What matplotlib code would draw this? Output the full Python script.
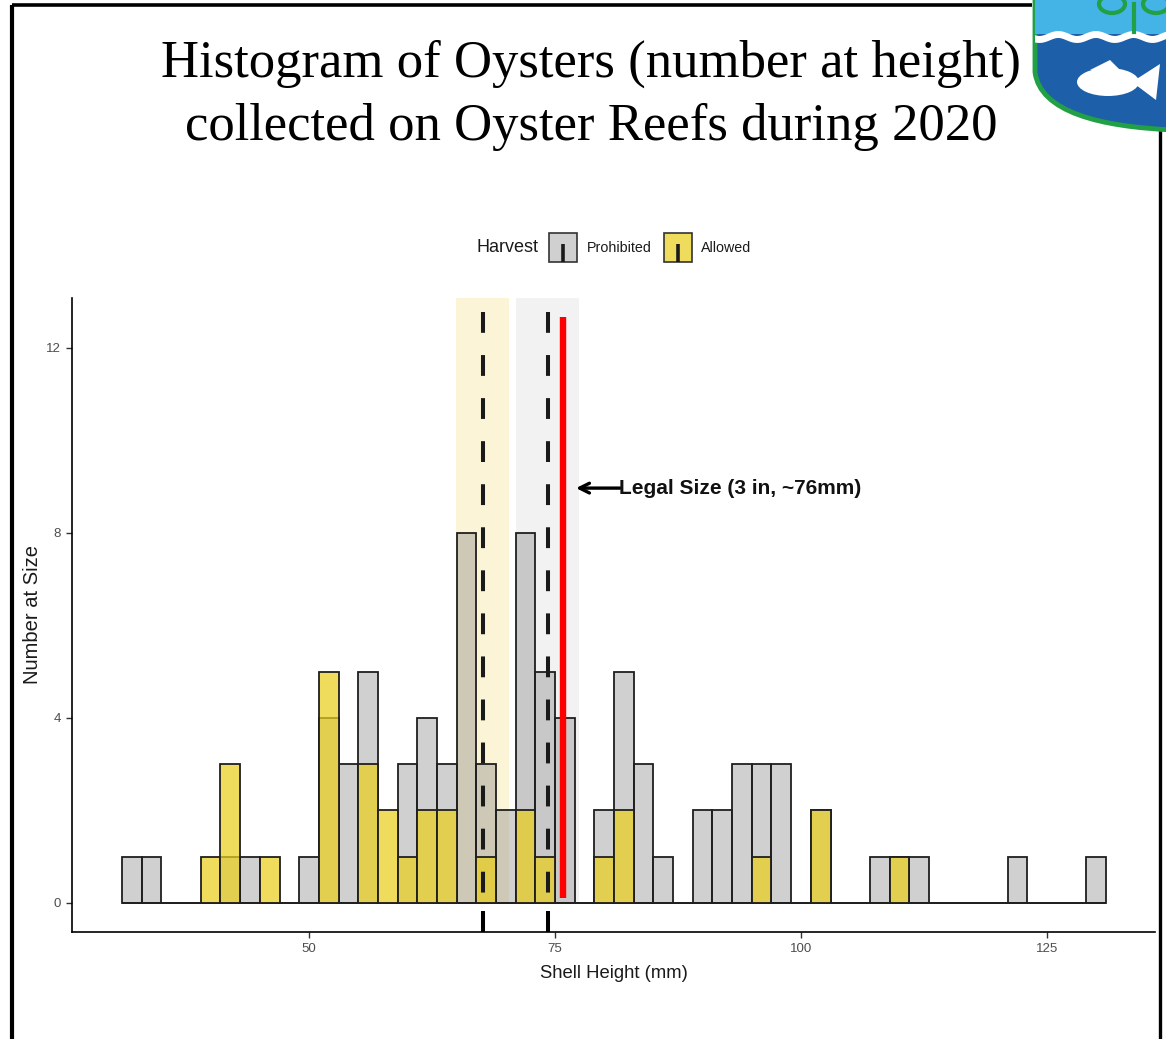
import numpy as np
import matplotlib
matplotlib.use("Agg")
import matplotlib.pyplot as plt
from matplotlib.patches import Rectangle, PathPatch, Ellipse, Polygon, FancyArrowPatch
from matplotlib.path import Path

# ---------------- data ----------------
bin_centers = [32, 34, 36, 38, 40, 42, 44, 46, 48, 50,
               52, 54, 56, 58, 60, 62, 64, 66, 68, 70,
               72, 74, 76, 78, 80, 82, 84, 86, 88, 90,
               92, 94, 96, 98, 100, 102, 104, 106, 108, 110,
               112, 114, 116, 118, 120, 122, 124, 126, 128, 130]
prohibited = [1, 1, 0, 0, 0, 1, 1, 0, 0, 1,
              4, 3, 5, 0, 3, 4, 3, 8, 3, 2,
              8, 5, 4, 0, 2, 5, 3, 1, 0, 2,
              2, 3, 3, 3, 0, 2, 0, 0, 1, 1,
              1, 0, 0, 0, 0, 1, 0, 0, 0, 1]
allowed = [0, 0, 0, 0, 1, 3, 0, 1, 0, 0,
           5, 0, 3, 2, 1, 2, 2, 0, 1, 0,
           2, 1, 0, 0, 1, 2, 0, 0, 0, 0,
           0, 0, 1, 0, 0, 2, 0, 0, 0, 1,
           0, 0, 0, 0, 0, 0, 0, 0, 0, 0]
bin_width = 2
mean_allowed = 67.65
mean_prohibited = 74.24
band_allowed = (64.94, 70.33)
band_prohibited = (71.04, 77.44)
legal_size = 75.8
x_ticks = [50, 75, 100, 125]
y_ticks = [0, 4, 8, 12]
legend_labels = ["Prohibited", "Allowed"]

W, H = 1166, 1039
fig = plt.figure(figsize=(W / 100, H / 100), dpi=100)
fig.patch.set_facecolor("white")

# ---------------- overlay (pixel coords) ----------------
ov = fig.add_axes([0, 0, 1, 1])
ov.set_xlim(0, W)
ov.set_ylim(H, 0)
ov.axis("off")
ov.set_zorder(0)

# slide borders
ov.plot([12, 12], [5, H + 5], color="black", lw=3, solid_capstyle="butt")
ov.plot([12, 1032], [5, 5], color="black", lw=2.6, solid_capstyle="butt")
ov.plot([1160, 1160], [128, H + 5], color="black", lw=2.4, solid_capstyle="butt")

# logo (shield)
verts = [(1035, -10), (1035, 72), (1040, 112), (1100, 127), (1175, 130), (1175, -10), (1035, -10)]
codes = [Path.MOVETO, Path.LINETO, Path.CURVE4, Path.CURVE4, Path.CURVE4, Path.LINETO, Path.CLOSEPOLY]
shield = PathPatch(Path(verts, codes), facecolor="#1d5fa9", edgecolor="#22a046", lw=3.5, zorder=2)
ov.add_patch(shield)
lb = Rectangle((1030, -10), 150, 44, facecolor="#44b3e6", edgecolor="none", zorder=3)
ov.add_patch(lb)
lb.set_clip_path(shield)
wx = np.linspace(1030, 1175, 80)
wave, = ov.plot(wx, 37 + 2.5 * np.sin((wx - 1030) / 6.0), color="white", lw=5, zorder=4)
wave.set_clip_path(shield)
fish = Ellipse((1108, 82), 62, 28, facecolor="white", edgecolor="none", zorder=4)
ov.add_patch(fish)
tail = Polygon([(1132, 82), (1160, 64), (1156, 100)], closed=True, facecolor="white", edgecolor="none", zorder=4)
ov.add_patch(tail)
fin = Polygon([(1090, 70), (1110, 60), (1122, 72)], closed=True, facecolor="white", edgecolor="none", zorder=4)
ov.add_patch(fin)
ov.plot([1134, 1134], [4, 32], color="#22a046", lw=3, zorder=5)
for cx in (1112, 1156):
    arc = Ellipse((cx, 4), 26, 18, facecolor="none", edgecolor="#22a046", lw=3, zorder=5)
    ov.add_patch(arc)
    arc.set_clip_path(shield)

# title
ov.text(591, 77, "Histogram of Oysters (number at height)", family="Liberation Serif",
        fontsize=38, ha="center", va="baseline", color="black")
ov.text(591, 140, "collected on Oyster Reefs during 2020", family="Liberation Serif",
        fontsize=38, ha="center", va="baseline", color="black")

# legend
gray_face = (0.5, 0.5, 0.5, 0.37)
yellow_face = (234 / 255, 206 / 255, 29 / 255, 0.72)
ov.text(476, 248, "Harvest", family="Liberation Sans", fontsize=13, ha="left", va="center", color="#1a1a1a")
key_x = [549, 664]
text_x = [587, 701]
for kx, tx, lab, fc in zip(key_x, text_x, legend_labels, [gray_face, yellow_face]):
    ov.add_patch(Rectangle((kx, 233), 28, 29, facecolor="white", edgecolor="none", zorder=2))
    ov.add_patch(Rectangle((kx, 233), 28, 29, facecolor=fc, edgecolor="#333333", lw=1.2, zorder=3))
    ov.plot([kx + 14, kx + 14], [244, 262], color="#1a1a1a", lw=2.6, zorder=4, solid_capstyle="butt")
    ov.text(tx, 248, lab, family="Liberation Sans", fontsize=10.3, ha="left", va="center", color="#1a1a1a")

# ---------------- main axes ----------------
ax = fig.add_axes([72 / W, (H - 932) / H, (1155 - 72) / W, (932 - 298) / H])
ax.set_zorder(1)
ax.set_facecolor("none")
ax.set_xlim(25.91, 135.98)
ax.set_ylim(-0.627, 13.08)

ymax = 13.08
ax.add_patch(Rectangle((band_allowed[0], 0), band_allowed[1] - band_allowed[0], ymax,
                       facecolor="#fbf4d6", edgecolor="none", zorder=1))
ax.add_patch(Rectangle((band_prohibited[0], 0), band_prohibited[1] - band_prohibited[0], ymax,
                       facecolor="#f2f2f2", edgecolor="none", zorder=1))

ax.bar(bin_centers, prohibited, width=bin_width, color=gray_face, edgecolor="#1f1f1f", lw=1.3, zorder=2)
ax.bar(bin_centers, allowed, width=bin_width, color=yellow_face, edgecolor="#1f1f1f", lw=1.3, zorder=3)

plt.rcParams["lines.scale_dashes"] = False
for m in (mean_allowed, mean_prohibited):
    ax.plot([m, m], [12.78, 0.1], color="#1a1a1a", lw=2.9, linestyle=(0, (15, 16)),
            solid_capstyle="butt", dash_capstyle="butt", zorder=4)
    ax.plot([m, m], [-0.17, -0.627], color="black", lw=2.9, solid_capstyle="butt", zorder=4, clip_on=False)

ax.plot([legal_size, legal_size], [0.1, 12.67], color="#ff0000", lw=4.6, solid_capstyle="butt", zorder=5)

ax.annotate("", xy=(76.85, 8.97), xytext=(81.9, 8.97),
            arrowprops=dict(arrowstyle="->,head_length=0.7,head_width=0.35", color="black", lw=2.4),
            zorder=6)
ax.text(81.5, 8.97, "Legal Size (3 in, ~76mm)", family="Liberation Sans", fontweight="bold",
        fontsize=15, ha="left", va="center", color="#111111", zorder=6)

for s in ("top", "right"):
    ax.spines[s].set_visible(False)
for s in ("left", "bottom"):
    ax.spines[s].set_color("black")
    ax.spines[s].set_linewidth(1.2)

ax.set_xticks(x_ticks)
ax.set_yticks(y_ticks)
ax.tick_params(length=4, width=1, color="#333333", labelcolor="#4d4d4d", labelsize=9.5, pad=4)
for lab in ax.get_xticklabels() + ax.get_yticklabels():
    lab.set_family("Liberation Sans")

ax.set_xlabel("Shell Height (mm)", family="Liberation Sans", fontsize=13.3, color="#1a1a1a")
ax.xaxis.set_label_coords((614 - 72) / (1155 - 72), (932 - 973) / (932 - 298))
ax.xaxis.label.set_va("center")
ax.set_ylabel("Number at Size", family="Liberation Sans", fontsize=14.5, color="#1a1a1a")
ax.yaxis.set_label_coords((33 - 72) / (1155 - 72), (932 - 615) / (932 - 298))
ax.yaxis.label.set_va("center")

fig.savefig("out.png", dpi=100, facecolor="white")
